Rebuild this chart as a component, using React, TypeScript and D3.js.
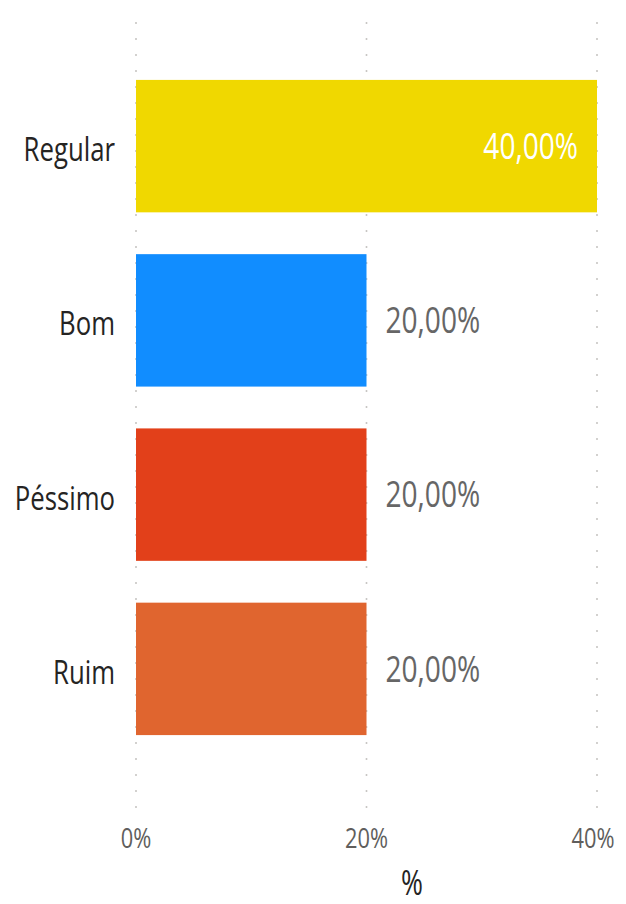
import React from "react";
import * as d3 from "d3";

const categories = ["Regular", "Bom", "Péssimo", "Ruim"];
const values = [0.4, 0.2, 0.2, 0.2];
const colors = ["#F0D800", "#118DFF", "#E2401A", "#E0652F"];
const tickValues = [0, 0.2, 0.4];
const axisTitle = "%";

const W = 626;
const H = 904;
const FONT = "'Segoe UI', 'Open Sans', sans-serif";
const SX = 0.78;

export default function App() {
  const x = d3.scaleLinear().domain([0, 0.4]).range([136, 597]);
  const y = d3
    .scaleBand<string>()
    .domain(categories)
    .range([59, 756])
    .paddingInner(0.24)
    .paddingOuter(0.12);

  const pct2 = (v: number) => (v * 100).toFixed(2).replace(".", ",") + "%";
  const pct0 = (v: number) => Math.round(v * 100) + "%";

  const catSize = 33;
  const lblSize = 36;
  const tickSize = 28;
  const titleSize = 34;

  return (
    <div style={{ position: "absolute", left: 0, top: 0, width: W, height: H, background: "#fff" }}>
      <svg width={W} height={H} style={{ display: "block" }}>
        {/* gridlines */}
        {tickValues.map((t, i) => (
          <line
            key={"g" + i}
            x1={x(t)}
            x2={x(t)}
            y1={22}
            y2={812}
            stroke="#C8C6C4"
            strokeWidth={1.6}
            strokeDasharray="2 14"
          />
        ))}
        {/* bars */}
        {categories.map((c, i) => (
          <rect
            key={"b" + c}
            x={x(0)}
            y={y(c)}
            width={x(values[i]) - x(0)}
            height={y.bandwidth()}
            fill={colors[i]}
          />
        ))}
        {/* category labels */}
        {categories.map((c) => (
          <text
            key={"c" + c}
            transform={`translate(115,${(y(c) as number) + y.bandwidth() / 2 + 15}) scale(${SX},1)`}
            textAnchor="end"
            fontFamily={FONT}
            fontSize={catSize}
            fill="#252423"
          >
            {c}
          </text>
        ))}
        {/* data labels */}
        {categories.map((c, i) => {
          const inside = values[i] >= 0.3;
          const cy = (y(c) as number) + y.bandwidth() / 2 + 0.714 * lblSize / 2;
          const xx = inside ? x(values[i]) - 19 : x(values[i]) + 19;
          return (
            <text
              key={"l" + c}
              transform={`translate(${xx},${cy}) scale(${SX},1)`}
              textAnchor={inside ? "end" : "start"}
              fontFamily={FONT}
              fontSize={lblSize}
              fill={inside ? "#FFFFFF" : "#666666"}
            >
              {pct2(values[i])}
            </text>
          );
        })}
        {/* tick labels */}
        {tickValues.map((t, i) => (
          <text
            key={"t" + i}
            transform={`translate(${x(t) - (i === tickValues.length - 1 ? 4 : 0)},848) scale(${SX},1)`}
            textAnchor="middle"
            fontFamily={FONT}
            fontSize={tickSize}
            fill="#605E5C"
          >
            {pct0(t)}
          </text>
        ))}
        {/* axis title */}
        <text
          transform={`translate(412,895) scale(${SX},1)`}
          textAnchor="middle"
          fontFamily={FONT}
          fontSize={titleSize}
          fill="#252423"
        >
          {axisTitle}
        </text>
      </svg>
    </div>
  );
}
